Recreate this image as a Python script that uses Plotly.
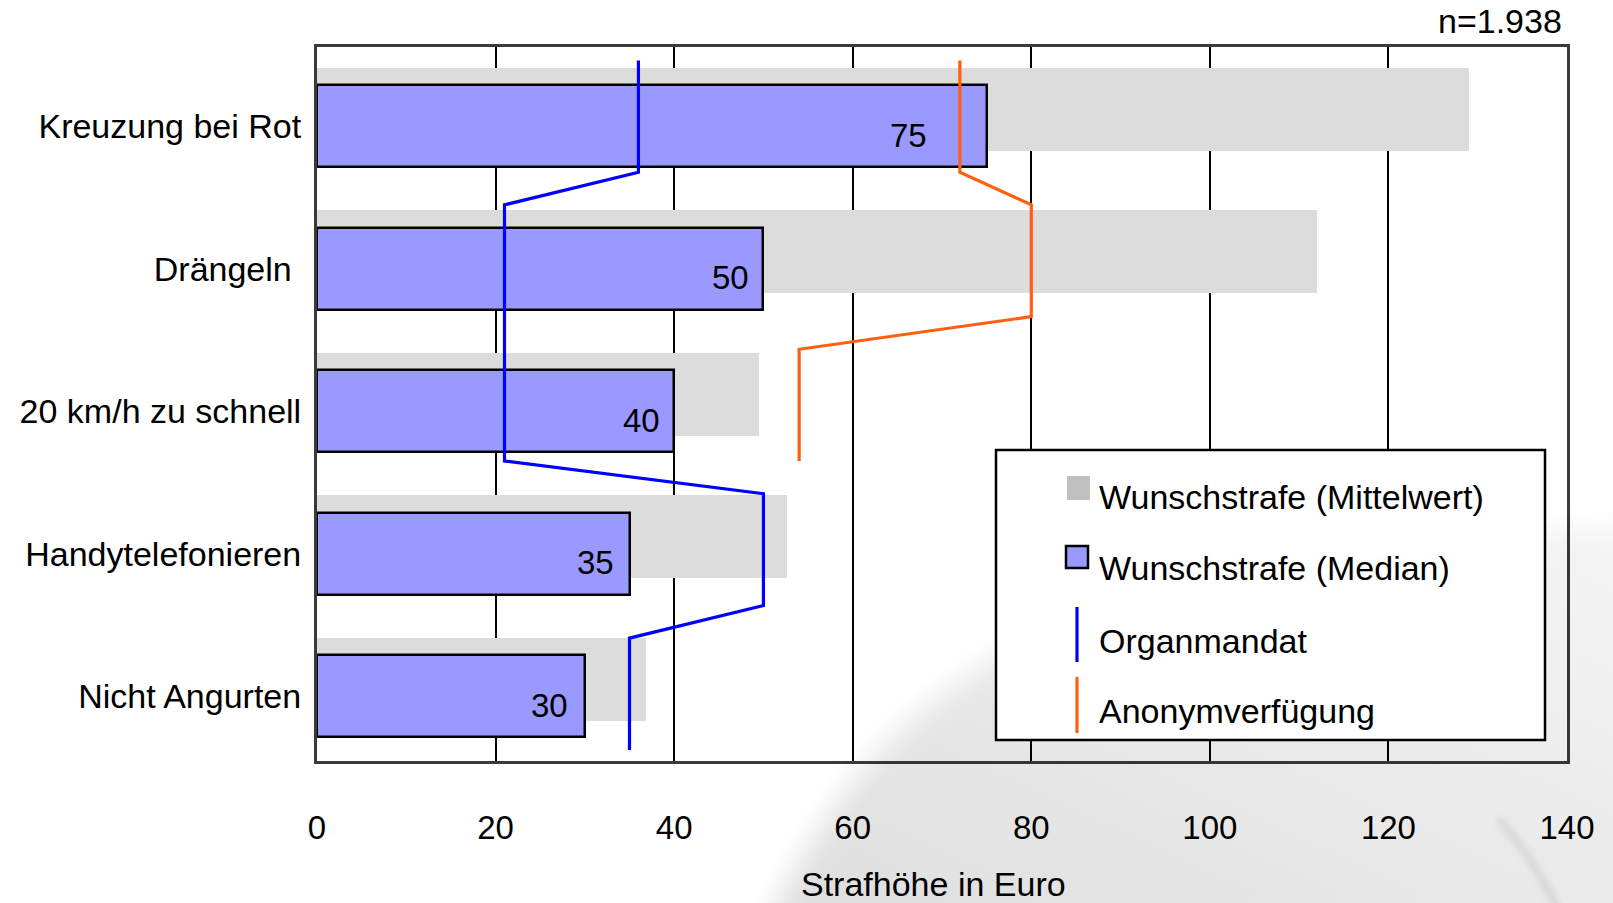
import base64
import plotly.graph_objects as go

# ---- data -------------------------------------------------------------
categories = ["Kreuzung bei Rot", "Drängeln\u00a0", "20 km/h zu schnell",
              "Handytelefonieren", "Nicht Angurten"]
mittelwert = [129, 112, 49.5, 52.6, 36.8]          # Wunschstrafe (Mittelwert)
median = [75, 50, 40, 35, 30]                       # Wunschstrafe (Median)
organmandat = [36, 21, 21, 50, 35]
anonymverfuegung = [72, 80, 54, None, None]
x_ticks = [0, 20, 40, 60, 80, 100, 120, 140]
series_names = ["Wunschstrafe (Mittelwert)", "Wunschstrafe (Median)",
                "Organmandat", "Anonymverfügung"]
sample_note = "n=1.938"
x_title = "Strafhöhe in Euro"

# ---- styling ------------------------------------------------------------
FONT = "Liberation Sans, Arial, sans-serif"
GRAY = "#DCDCDC"
GRAY_KEY = "#C0C0C0"
LAVENDER = "#9999FF"
BLUE = "#0000FF"
ORANGE = "#FF5F0F"

W, H = 1613, 903
ML, MR, MT, MB = 317, 46, 47, 142
PW, PH = W - ML - MR, H - MT - MB

def px(xp):
    return (xp - ML) / PW

def py(yp):
    return (H - MB - yp) / PH

label_nudge = [-58, -12, -12, -14, -15]   # horizontal shift of value labels (px)


def step_path(values, half=0.387):
    xs, ys = [], []
    for i, v in enumerate(values):
        if v is None:
            continue
        xs += [v, v]
        ys += [i - half, i + half]
    return xs, ys


fig = go.Figure()

fig.add_trace(go.Bar(
    x=mittelwert, y=categories, orientation="h", name=series_names[0],
    width=0.582, offset=-0.41, marker=dict(color=GRAY, line=dict(width=0)),
    showlegend=False, hoverinfo="x+y"))

fig.add_trace(go.Bar(
    x=median, y=categories, orientation="h", name=series_names[1],
    width=0.575, offset=-0.2875,
    marker=dict(color=LAVENDER, line=dict(color="black", width=2.5)),
    showlegend=False, hoverinfo="x+y"))

for vals, color, name in [(organmandat, BLUE, series_names[2]),
                          (anonymverfuegung, ORANGE, series_names[3])]:
    xs, ys = step_path(vals)
    fig.add_trace(go.Scatter(
        x=xs, y=ys, mode="lines", name=name, yaxis="y2",
        line=dict(color=color, width=3.2), showlegend=False))

# value labels inside the median bars
annotations = []
for cat, v, dx in zip(categories, median, label_nudge):
    annotations.append(dict(
        x=v, y=cat, xref="x", yref="y", text=str(v), showarrow=False,
        xanchor="right", yanchor="middle", xshift=dx, yshift=-9,
        font=dict(family=FONT, size=33, color="black")))

annotations.append(dict(
    x=px(1564), y=py(21), xref="paper", yref="paper", text=sample_note,
    showarrow=False, xanchor="right", yanchor="middle",
    font=dict(family=FONT, size=34, color="black")))

annotations.append(dict(
    x=px(933), y=py(884), xref="paper", yref="paper", text=x_title,
    showarrow=False, xanchor="center", yanchor="middle",
    font=dict(family=FONT, size=34, color="black")))

# ---- legend box ---------------------------------------------------------
shapes = [dict(type="rect", xref="paper", yref="paper",
               x0=px(996), x1=px(1545), y0=py(740), y1=py(450),
               fillcolor="white", line=dict(color="black", width=2.5),
               layer="above")]
shapes.append(dict(type="rect", xref="paper", yref="paper",
                   x0=px(1067), x1=px(1090), y0=py(500), y1=py(476),
                   fillcolor=GRAY_KEY, line=dict(width=0), layer="above"))
shapes.append(dict(type="rect", xref="paper", yref="paper",
                   x0=px(1066), x1=px(1088), y0=py(568), y1=py(546),
                   fillcolor=LAVENDER, line=dict(color="black", width=2.5),
                   layer="above"))
for color, y0, y1 in [(BLUE, 607, 662), (ORANGE, 677, 733)]:
    shapes.append(dict(type="line", xref="paper", yref="paper",
                       x0=px(1077), x1=px(1077), y0=py(y1), y1=py(y0),
                       line=dict(color=color, width=3.2), layer="above"))

for name, yc in zip(series_names, [497, 568, 641, 711]):
    annotations.append(dict(
        x=px(1097), y=py(yc), xref="paper", yref="paper", text=name,
        showarrow=False, xanchor="left", yanchor="middle",
        font=dict(family=FONT, size=34, color="black")))

# ---- soft background swoosh --------------------------------------------
svg = f'''<svg xmlns="http://www.w3.org/2000/svg" width="{W}" height="{H}" viewBox="0 0 {W} {H}">
<defs>
<linearGradient id="g" x1="0" y1="1" x2="1" y2="0">
<stop offset="0" stop-color="#000" stop-opacity="0.13"/>
<stop offset="0.55" stop-color="#000" stop-opacity="0.08"/>
<stop offset="1" stop-color="#000" stop-opacity="0.04"/>
</linearGradient>
<filter id="b" x="-20%" y="-20%" width="140%" height="140%"><feGaussianBlur stdDeviation="14"/></filter>
<filter id="s"><feGaussianBlur stdDeviation="3"/></filter>
</defs>
<path d="M 765 930 C 825 800 895 715 1010 650 C 1160 570 1400 535 1640 525 L 1640 930 Z" fill="url(#g)" filter="url(#b)"/>
<path d="M 1498 818 Q 1535 860 1558 910" stroke="#000" stroke-opacity="0.08" stroke-width="8" fill="none" filter="url(#s)"/>
</svg>'''
uri = "data:image/svg+xml;base64," + base64.b64encode(svg.encode()).decode()

fig.update_layout(
    width=W, height=H,
    margin=dict(l=ML, r=MR, t=MT, b=MB, autoexpand=False),
    paper_bgcolor="white", plot_bgcolor="rgba(0,0,0,0)",
    barmode="overlay", bargap=0, showlegend=False,
    font=dict(family=FONT, size=34, color="black"),
    xaxis=dict(range=[0, 140], tickvals=x_ticks, ticks="",
               ticklabelstandoff=35,
               tickfont=dict(family=FONT, size=33, color="black"),
               showgrid=True, gridcolor="black", gridwidth=2,
               zeroline=False, showline=True, linecolor="#3a3a3a",
               linewidth=3, mirror=True, fixedrange=True),
    yaxis=dict(type="category", categoryorder="array",
               categoryarray=categories, range=[4.453, -0.554],
               ticks="", ticklabelstandoff=6,
               tickfont=dict(family=FONT, size=34, color="black"),
               showgrid=False, zeroline=False, showline=True,
               linecolor="#3a3a3a", linewidth=3, mirror=True,
               fixedrange=True),
    yaxis2=dict(overlaying="y", anchor="x", range=[4.464, -0.480],
                visible=False, fixedrange=True),
    annotations=annotations, shapes=shapes,
    images=[dict(source=uri, xref="paper", yref="paper",
                 x=px(0), y=py(0), sizex=W / PW, sizey=H / PH,
                 xanchor="left", yanchor="top", sizing="stretch",
                 layer="above")],
)

fig.write_html("out.html")
